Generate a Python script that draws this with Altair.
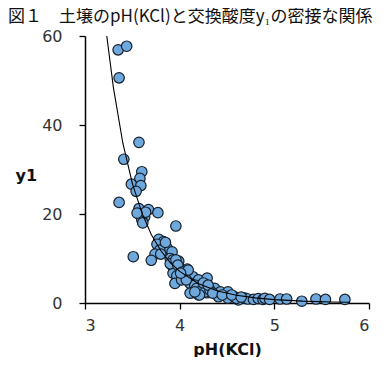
import altair as alt
import pandas as pd

# Scatter points (pH(KCl), y1)
ph = [3.35, 3.44, 3.36, 3.57, 3.41, 3.60, 3.58, 3.49, 3.59, 3.54,
      3.36, 3.57, 3.67, 3.77, 3.58, 3.63, 3.60, 3.96, 3.78, 3.83,
      3.76, 3.87, 3.79, 3.92, 3.51, 3.74, 3.70, 3.90, 3.93, 3.99,
      3.93, 4.00, 4.08, 3.93, 3.97, 3.95, 4.14, 4.20, 4.29, 4.11,
      4.16, 4.13, 4.20, 4.29, 4.25, 4.37, 4.41, 4.50, 3.90, 4.02,
      4.07, 4.18, 4.21, 4.27, 4.32, 4.43, 4.11, 4.21, 4.51, 4.58,
      4.62, 4.51, 4.60, 4.69, 4.72, 4.78, 4.83, 4.88, 4.90, 4.95,
      5.06, 5.13, 5.29, 5.44, 5.54, 5.745, 3.64, 3.55, 3.61, 3.85,
      3.96, 3.98, 4.03, 4.09, 4.25, 4.30, 4.35, 4.45, 4.55, 4.65,
      3.80, 4.01, 4.16]
y1 = [56.9, 57.7, 50.6, 36.1, 32.3, 29.5, 28.0, 26.7, 26.4, 25.1,
      22.6, 21.2, 21.0, 20.3, 19.8, 19.3, 18.7, 17.3, 14.3, 13.8,
      13.2, 12.3, 11.9, 11.5, 10.4, 11.0, 9.6, 10.0, 9.7, 9.4,
      8.2, 7.8, 7.6, 6.7, 6.1, 4.4, 5.9, 5.2, 5.6, 4.4,
      4.0, 2.3, 1.8, 2.3, 3.3, 3.3, 1.4, 1.4, 8.8, 5.2,
      5.2, 3.3, 2.5, 2.5, 2.9, 2.5, 2.2, 1.8, 1.1, 1.4,
      0.7, 2.5, 1.05, 1.1, 0.9, 0.8, 1.0, 0.8, 1.05, 0.8,
      0.9, 0.9, 0.4, 0.9, 0.8, 0.8, 20.4, 20.2, 18.0, 13.6,
      9.7, 8.5, 7.0, 7.4, 4.5, 4.0, 2.2, 1.8, 1.8, 1.3,
      11.0, 6.7, 2.5]

# Fitted curve, points
curve_ph = [3.23, 3.3, 3.4, 3.5, 3.6, 3.7, 3.8, 3.9, 4.0, 4.2, 4.4, 4.6, 4.8, 5.0, 5.3, 5.6, 5.8]
curve_y1 = [60.0, 48.4, 35.9, 26.9, 20.3, 15.4, 11.8, 9.1, 7.1, 4.35, 2.7, 1.75, 1.15, 0.76, 0.42, 0.24, 0.17]

x_ticks = [3, 4, 5, 6]
y_ticks = [0, 20, 40, 60]

pts = pd.DataFrame({"ph": ph, "y1": y1})
crv = pd.DataFrame({"ph": curve_ph, "y1": curve_y1})

xs = alt.Scale(domain=[3, 6], nice=False, zero=False)
ys = alt.Scale(domain=[0, 60], nice=False)

x_axis = alt.Axis(values=x_ticks, format="d", title="pH(KCl)", grid=False, tickSize=6,
                  labelPadding=8, titleY=51, titleBaseline="alphabetic")
y_axis = alt.Axis(values=y_ticks, format="d", title="y1", grid=False, tickSize=6,
                  labelPadding=17, titleAngle=0, titleX=-70, titleY=139,
                  titleAlign="left", titleBaseline="middle")

points = alt.Chart(pts).mark_point(
    filled=True, shape="circle", size=110, fill="#6fa8dc", stroke="#15202b",
    strokeWidth=1.2, opacity=1
).encode(
    x=alt.X("ph:Q", scale=xs, axis=x_axis),
    y=alt.Y("y1:Q", scale=ys, axis=y_axis),
)

line = alt.Chart(crv).mark_line(color="#000000", strokeWidth=1.1).encode(
    x=alt.X("ph:Q", scale=xs),
    y=alt.Y("y1:Q", scale=ys),
)

chart = alt.layer(points, line).properties(
    width=284, height=267,
    autosize=alt.AutoSizeParams(type="none"),
    padding={"left": 77, "top": 28, "right": 11, "bottom": 54},
    title=alt.TitleParams(
        "図１　土壌のpH(KCl)と交換酸度y₁の密接な関係",
        anchor="start", frame="group", dx=-77, dy=2, fontSize=17,
        font="Noto Sans CJK JP", fontWeight="normal", color="#111111",
        offset=4,
    ),
).configure_view(stroke=None).configure_axis(
    domainColor="#000000", domainWidth=1.5, tickColor="#000000", tickWidth=1.3,
    labelFont="DejaVu Sans", labelFontSize=16, labelColor="#333333",
    titleFont="DejaVu Sans", titleFontSize=16, titleFontWeight="bold", titleColor="#111111",
)

chart.save("out.html", embed_options={"renderer": "svg", "actions": False})
